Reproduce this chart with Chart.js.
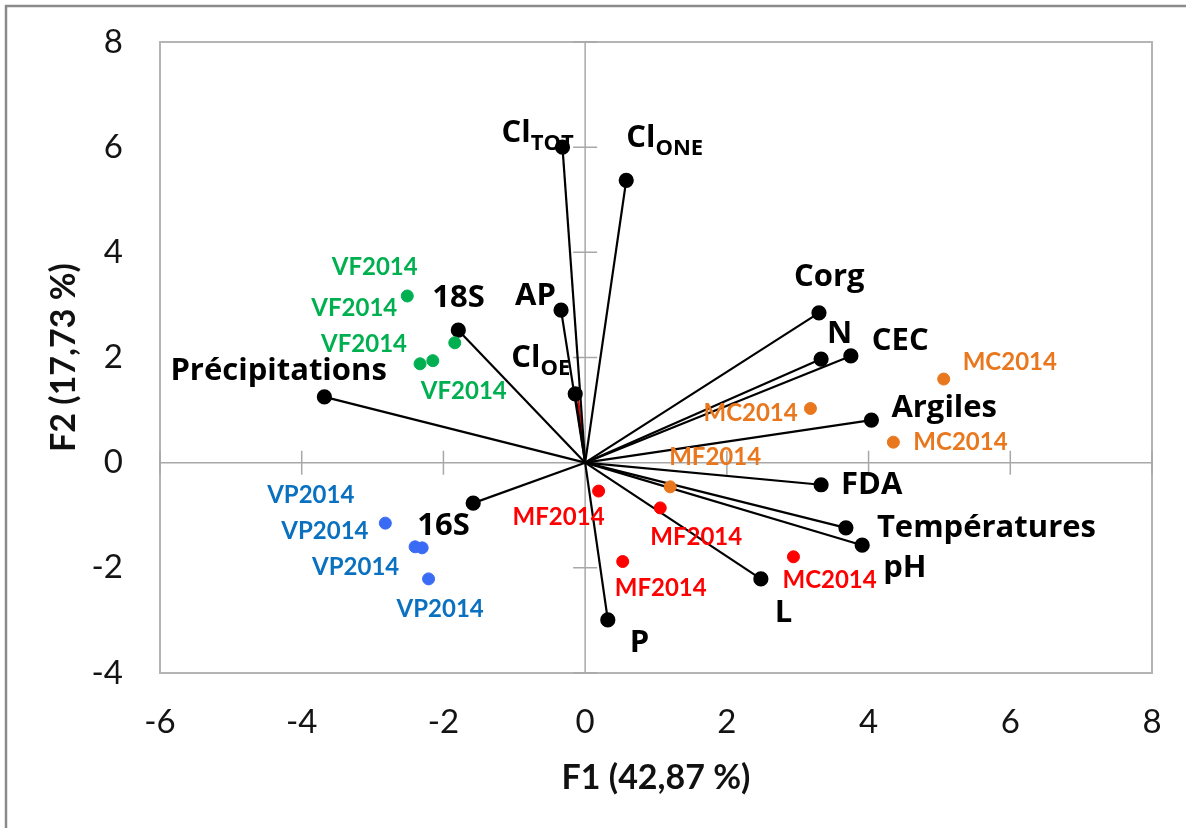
<!DOCTYPE html>
<html>
<head>
<meta charset="utf-8">
<script src="https://cdn.jsdelivr.net/npm/chart.js@4.4.1/dist/chart.umd.min.js"></script>
<style>
  html, body { margin: 0; padding: 0; background: #fff; }
  #wrap { width: 1186px; height: 828px; }
</style>
</head>
<body>
<div id="wrap"><canvas id="pca" width="1186" height="828"></canvas></div>
<script>
// ACP biplot F1 x F2 : variables (vecteurs) + échantillons
const FONT = 'Lato, "Open Sans", sans-serif';
const VAR_FONT = '"Open Sans", Lato, sans-serif';

// variables (loadings)
const varLabels = ['Cl', 'Cl', 'AP', 'Cl', '18S', 'Précipitations', '16S', 'P', 'L', 'pH', 'Températures', 'FDA', 'Argiles', 'CEC', 'N', 'Corg'];
const varSubs = ['TOT', 'ONE', '', 'OE', '', '', '', '', '', '', '', '', '', '', '', ''];
const varF1 = [-0.32, 0.58, -0.34, -0.14, -1.79, -3.68, -1.58, 0.32, 2.48, 3.91, 3.68, 3.33, 4.04, 3.75, 3.33, 3.30];
const varF2 = [6.00, 5.37, 2.90, 1.31, 2.52, 1.25, -0.77, -2.99, -2.21, -1.57, -1.24, -0.42, 0.81, 2.03, 1.97, 2.85];

// thin red vector hidden behind Cl OE
const redVecF1 = [-0.10];
const redVecF2 = [1.23];

// samples
const vfLabels = ['VF2014', 'VF2014', 'VF2014', 'VF2014'];
const vfF1 = [-2.51, -2.33, -2.15, -1.84];
const vfF2 = [3.17, 1.88, 1.94, 2.28];

const vpLabels = ['VP2014', 'VP2014', 'VP2014', 'VP2014'];
const vpF1 = [-2.82, -2.40, -2.30, -2.21];
const vpF2 = [-1.15, -1.60, -1.62, -2.21];

const redLabels = ['MF2014', 'MF2014', 'MF2014', 'MC2014'];
const redF1 = [0.19, 1.06, 0.53, 2.94];
const redF2 = [-0.54, -0.86, -1.88, -1.79];

const orangeLabels = ['MC2014', 'MC2014', 'MC2014', 'MF2014'];
const orangeF1 = [5.06, 3.18, 4.35, 1.20];
const orangeF2 = [1.59, 1.03, 0.39, -0.46];

const xTitle = 'F1 (42,87 %)';
const yTitle = 'F2 (17,73 %)';

// label placement (px from the point: left edge, baseline)
const varLabelOffsets = [[-61, -5], [0, -33], [-46, -5], [-64, -27], [-26, -23], [-154, -17], [-56, 32], [22, 32],
  [14, 43], [21, 32], [31, 9], [20, 9], [20, -3], [21, -6], [6, -16], [-25, -27]];
const vfLabelOffsets = [[-96, 20], [-99, -12], [-12, 38], [-123, -68]];
const vpLabelOffsets = [[-104, 16], [-103, 28], [-155, -45], [-32, 38]];
const redLabelOffsets = [[-86, 34], [-10, 37], [-8, 34], [-11, 31]];
const orangeLabelOffsets = [[19, -9], [-107, 12], [20, 8], [-1, -22]];

function pts(xs, ys) {
  return xs.map((x, i) => ({ x: x, y: ys[i] }));
}

function sampleSet(xs, ys, labels, offsets, dotColor, textColor) {
  return {
    type: 'scatter',
    data: pts(xs, ys),
    backgroundColor: dotColor,
    borderColor: dotColor,
    pointRadius: 6,
    pointHoverRadius: 6,
    order: 0,
    pointLabels: labels.map((t, i) => ({ text: t, dx: offsets[i][0], dy: offsets[i][1], color: textColor, font: FONT, size: 24 })),
  };
}

const datasets = [];
datasets.push(sampleSet(vfF1, vfF2, vfLabels, vfLabelOffsets, '#00B050', '#00B050'));
datasets.push(sampleSet(vpF1, vpF2, vpLabels, vpLabelOffsets, '#3A6BF5', '#0A70C0'));
datasets.push(sampleSet(redF1, redF2, redLabels, redLabelOffsets, '#FF0000', '#FF0000'));
datasets.push(sampleSet(orangeF1, orangeF2, orangeLabels, orangeLabelOffsets, '#E8771E', '#E8771E'));

varF1.forEach((x, i) => {
  datasets.push({
    type: 'line',
    data: [{ x: 0, y: 0 }, { x: x, y: varF2[i] }],
    borderColor: '#000',
    borderWidth: 2.2,
    backgroundColor: '#000',
    pointRadius: [0, 6.5],
    pointHoverRadius: [0, 6.5],
    tension: 0,
    order: 1,
    pointLabels: [null, { text: varLabels[i], sub: varSubs[i], dx: varLabelOffsets[i][0], dy: varLabelOffsets[i][1], color: '#000', font: VAR_FONT, size: 31 }],
  });
});

redVecF1.forEach((x, i) => {
  datasets.push({
    type: 'line',
    data: [{ x: 0, y: 0 }, { x: x, y: redVecF2[i] }],
    borderColor: '#E00000',
    borderWidth: 2,
    pointRadius: 0,
    order: 2,
  });
});

// page background + chart-area frame (only top and left edges are visible)
const frame = {
  id: 'frame',
  beforeDraw(chart) {
    const ctx = chart.ctx;
    ctx.save();
    ctx.fillStyle = '#fff';
    ctx.fillRect(0, 0, chart.width, chart.height);
    ctx.strokeStyle = '#8a8a8a';
    ctx.lineWidth = 2.5;
    ctx.beginPath();
    ctx.moveTo(5, 6);
    ctx.lineTo(chart.width, 6);
    ctx.moveTo(6, 5);
    ctx.lineTo(6, chart.height);
    ctx.stroke();
    ctx.restore();
  },
};

// plot border and zero axes with cross tick marks
const zeroAxes = {
  id: 'zeroAxes',
  beforeDatasetsDraw(chart) {
    const { ctx, chartArea: a, scales: { x, y } } = chart;
    const x0 = x.getPixelForValue(0);
    const y0 = y.getPixelForValue(0);
    ctx.save();
    ctx.strokeStyle = '#b4b4b4';
    ctx.lineWidth = 2;
    ctx.strokeRect(a.left, a.top, a.right - a.left, a.bottom - a.top);
    ctx.strokeStyle = '#a8a8a8';
    ctx.lineWidth = 1.5;
    ctx.beginPath();
    ctx.moveTo(x0, a.top);
    ctx.lineTo(x0, a.bottom);
    ctx.moveTo(a.left, y0);
    ctx.lineTo(a.right, y0);
    y.ticks.forEach((t) => {
      const p = y.getPixelForValue(t.value);
      ctx.moveTo(x0 - 12, p);
      ctx.lineTo(x0 + 12, p);
    });
    x.ticks.forEach((t) => {
      const p = x.getPixelForValue(t.value);
      ctx.moveTo(p, y0 - 12);
      ctx.lineTo(p, y0 + 12);
    });
    ctx.stroke();
    ctx.restore();
  },
};

const pointLabels = {
  id: 'pointLabels',
  afterDatasetsDraw(chart) {
    const ctx = chart.ctx;
    ctx.save();
    ctx.textAlign = 'left';
    ctx.textBaseline = 'alphabetic';
    chart.data.datasets.forEach((ds, i) => {
      if (!ds.pointLabels) return;
      const meta = chart.getDatasetMeta(i);
      ds.pointLabels.forEach((lab, j) => {
        if (!lab) return;
        const el = meta.data[j];
        const tx = el.x + lab.dx;
        const ty = el.y + lab.dy;
        ctx.fillStyle = lab.color;
        ctx.font = 'bold ' + lab.size + 'px ' + lab.font;
        ctx.fillText(lab.text, tx, ty);
        if (lab.sub) {
          const w = ctx.measureText(lab.text).width;
          ctx.font = 'bold ' + Math.round(lab.size * 0.7) + 'px ' + lab.font;
          ctx.fillText(lab.sub, tx + w, ty + 8);
        }
      });
    });
    ctx.restore();
  },
};

new Chart(document.getElementById('pca'), {
  type: 'scatter',
  data: { datasets: datasets },
  plugins: [frame, zeroAxes, pointLabels],
  options: {
    responsive: false,
    animation: false,
    events: [],
    layout: { padding: { left: 0, top: 42, right: 34, bottom: 0 } },
    plugins: { legend: { display: false }, tooltip: { enabled: false } },
    scales: {
      x: {
        type: 'linear',
        min: -6,
        max: 8,
        ticks: { stepSize: 2, color: '#141414', padding: 30, font: { family: FONT, size: 33 } },
        grid: { display: false, drawTicks: false },
        border: { display: false },
        title: { display: true, text: xTitle, color: '#111', font: { family: FONT, size: 34, weight: 'bold' }, padding: { top: 0, bottom: 30 } },
        afterFit: (s) => { s.height = 155; s.paddingLeft = 0; s.paddingRight = 0; },
      },
      y: {
        type: 'linear',
        min: -4,
        max: 8,
        ticks: { stepSize: 2, color: '#141414', padding: 37, font: { family: FONT, size: 33 } },
        grid: { display: false, drawTicks: false },
        border: { display: false },
        title: { display: true, text: yTitle, color: '#111', font: { family: FONT, size: 34, weight: 'bold' }, padding: { top: 44, bottom: 0 } },
        afterFit: (s) => { s.width = 160; s.paddingTop = 0; s.paddingBottom = 0; },
      },
    },
  },
});
</script>
</body>
</html>
